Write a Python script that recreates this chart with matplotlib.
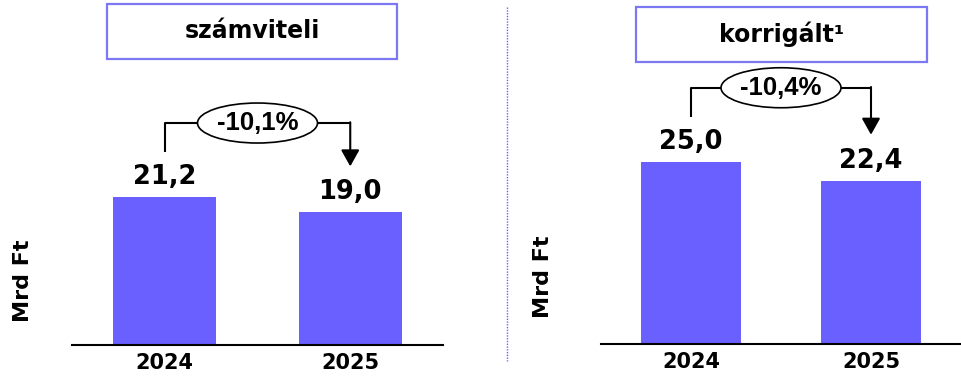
import matplotlib
matplotlib.use('Agg')
import matplotlib.pyplot as plt
from matplotlib.patches import Ellipse, Rectangle
from matplotlib.lines import Line2D

# Data
years = ['2024', '2025']
szamviteli = [21.2, 19.0]
korrigalt = [25.0, 22.4]
changes = [-10.1, -10.4]
titles = ['számviteli', 'korrigált¹']
unit = 'Mrd Ft'

bar_color = '#6A60FF'
box_color = '#7B78F2'

W, H = 961, 376
fig = plt.figure(figsize=(W / 100, H / 100), dpi=100)


def fmt(v):
    return f'{v:.1f}'.replace('.', ',')


def px_box(x0, x1, y_base, y_top=0):
    # pixel box (from top-left) -> figure fraction rect
    return [x0 / W, (H - y_base) / H, (x1 - x0) / W, (y_base - y_top) / H]


def panel(rect, values, change, px_per_unit, title, box, ylabel_pos):
    ax = fig.add_axes(rect)
    h_px = rect[3] * H
    ax.set_ylim(0, h_px / px_per_unit)
    ax.set_xlim(-0.5, 1.5)
    x = [0, 1]
    ax.bar(x, values, width=0.555, color=bar_color, zorder=2)
    for s in ['top', 'right', 'left']:
        ax.spines[s].set_visible(False)
    ax.spines['bottom'].set_linewidth(1.5)
    ax.set_yticks([])
    ax.set_xticks(x)
    ax.set_xticklabels(years, fontsize=15, fontweight='bold')
    ax.tick_params(axis='x', length=0, pad=6)

    u = 1.0 / px_per_unit  # data units per pixel
    for xi, v in zip(x, values):
        ax.text(xi, v + 20 * u, fmt(v), ha='center', va='center',
                fontsize=18.5, fontweight='bold')

    # change bracket
    y_line = values[0] + 74 * u
    y_start = values[0] + 45 * u
    y_tip = values[1] + 46 * u
    ax.plot([0, 0, 1, 1], [y_start, y_line, y_line, y_line],
            color='black', lw=1.5, solid_capstyle='butt', zorder=3)
    ax.annotate('', xy=(1, y_tip), xytext=(1, y_line + 0.75 * u),
                arrowprops=dict(arrowstyle='-|>,head_length=0.5,head_width=0.28',
                                mutation_scale=20, color='black', lw=1.5,
                                shrinkA=0, shrinkB=0))
    xw = 120 / (rect[2] * W / 2.0)
    ax.add_patch(Ellipse((0.5, y_line), xw, 40 * u, facecolor='white',
                         edgecolor='black', lw=1.2, zorder=4))
    ax.text(0.5, y_line, f'{change:.1f}%'.replace('.', ','), ha='center',
            va='center', fontsize=18.5, fontweight='bold',
            family=['Liberation Sans', 'DejaVu Sans'], zorder=5)

    # title box
    bx0, by0, bx1, by1 = box
    fig.add_artist(Rectangle((bx0 / W, 1 - by1 / H), (bx1 - bx0) / W,
                             (by1 - by0) / H, transform=fig.transFigure,
                             facecolor='white', edgecolor=box_color, lw=1.6))
    fig.text((bx0 + bx1) / 2 / W, 1 - (by0 + by1) / 2 / H, title,
             ha='center', va='center', fontsize=17, fontweight='bold')

    fig.text(ylabel_pos[0] / W, 1 - ylabel_pos[1] / H, unit, rotation=90,
             ha='center', va='center', fontsize=16, fontweight='bold')
    return ax


panel(px_box(72, 443, 345), szamviteli, changes[0], 6.98, titles[0],
      (107, 4, 397, 59), (23, 281))
panel(px_box(601, 961, 344), korrigalt, changes[1], 7.29, titles[1],
      (636, 7, 927, 62), (543, 277))

# dotted separator
fig.add_artist(Line2D([507 / W, 507 / W], [1 - 7 / H, 1 - 361 / H],
                      transform=fig.transFigure, color='#6A60FF',
                      lw=1, linestyle=(0, (1, 1))))

fig.savefig('out.png', dpi=100)
